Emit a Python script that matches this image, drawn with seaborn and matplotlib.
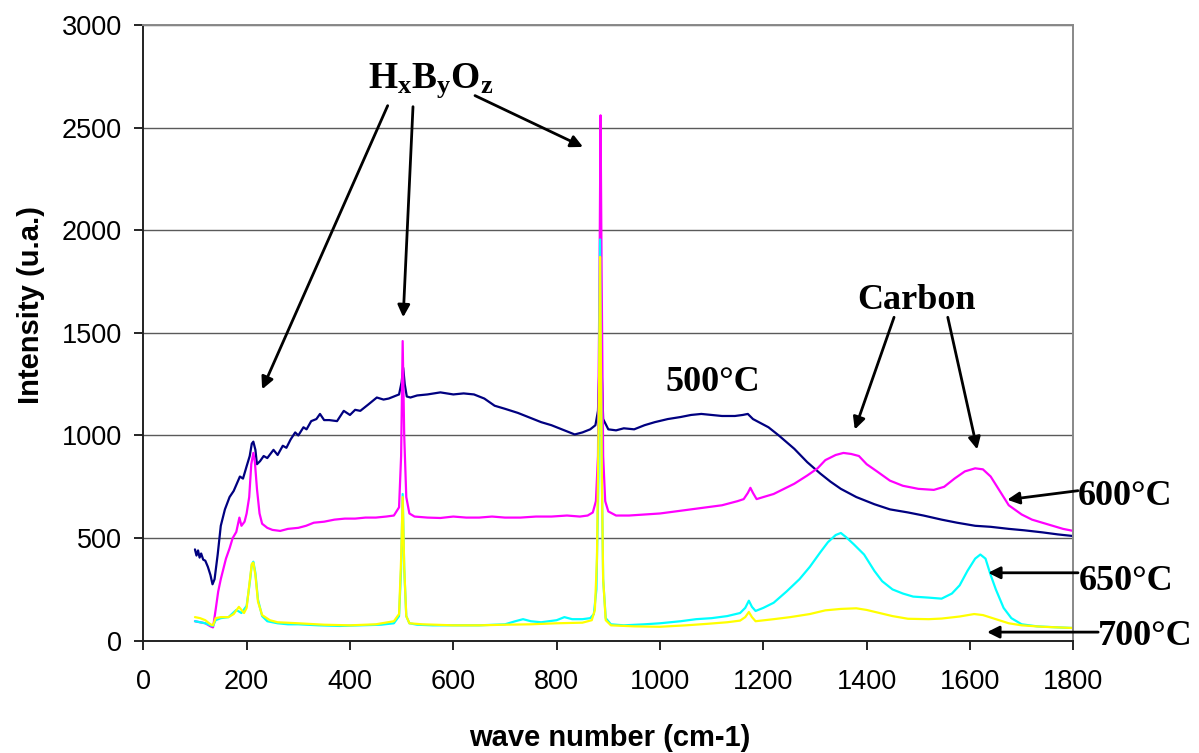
import matplotlib
matplotlib.use("Agg")
import matplotlib.pyplot as plt
import seaborn as sns
import pandas as pd

# ---------------- data ----------------
wn_500 = [100, 103, 106, 109, 112, 116, 120, 125, 130, 134, 138, 144, 150, 158, 167, 175, 187, 193,
          200, 206, 210, 213, 217, 220, 226, 233, 240, 252, 260, 270, 277, 285, 294, 300, 310, 316,
          325, 335, 342, 350, 360, 375, 388, 400, 410, 420, 435, 452, 465, 475, 485, 495, 500, 503,
          506, 510, 517, 530, 550, 575, 600, 620, 640, 660, 680, 700, 725, 745, 770, 790, 810, 835,
          850, 865, 875, 880, 885, 890, 900, 915, 930, 950, 970, 990, 1015, 1040, 1060, 1080, 1100,
          1120, 1145, 1160, 1170, 1180, 1195, 1210, 1230, 1260, 1285, 1310, 1330, 1350, 1380, 1415,
          1445, 1480, 1510, 1545, 1575, 1610, 1640, 1675, 1705, 1740, 1770, 1800]
int_500 = [445, 415, 440, 405, 425, 395, 390, 360, 320, 275, 300, 420, 560, 640, 700, 730, 800, 790,
           850, 900, 960, 970, 930, 860, 875, 900, 890, 930, 905, 950, 940, 980, 1015, 1000, 1040, 1030,
           1070, 1080, 1105, 1075, 1075, 1070, 1120, 1100, 1125, 1120, 1150, 1185, 1175, 1180, 1190, 1200, 1260, 1330,
           1250, 1190, 1185, 1195, 1200, 1210, 1200, 1205, 1200, 1180, 1145, 1130, 1110, 1090, 1065, 1050, 1030, 1005,
           1015, 1030, 1050, 1120, 1500, 1080, 1030, 1025, 1035, 1030, 1050, 1065, 1080, 1090, 1100, 1105, 1100,
           1095, 1095, 1100, 1105, 1080, 1060, 1040, 1000, 935, 870, 815, 775, 740, 700, 665,
           640, 625, 610, 590, 575, 560, 555, 545, 538, 528, 518, 510]

wn_600 = [100, 110, 120, 130, 135, 140, 145, 150, 160, 167, 173, 180, 186, 190, 196, 200, 205, 209, 213,
          216, 220, 225, 230, 240, 250, 265, 280, 300, 315, 330, 350, 370, 390, 410, 430, 450, 470, 485,
          495, 499, 502, 505, 509, 515, 525, 550, 575, 600, 625, 650, 675, 700, 730, 760, 790, 820, 845,
          860, 870, 876, 880, 883, 885, 887, 890, 894, 900, 915, 940, 970, 1000, 1030, 1060, 1090, 1120,
          1150, 1162, 1170, 1175, 1180, 1187, 1200, 1220, 1240, 1260, 1285, 1305, 1320, 1340, 1355, 1370,
          1385, 1400, 1420, 1445, 1470, 1500, 1530, 1550, 1570, 1590, 1610, 1625, 1640, 1655, 1675, 1700,
          1720, 1740, 1760, 1780, 1800]
int_600 = [95, 90, 85, 70, 65, 150, 240, 300, 400, 450, 500, 530, 600, 560, 580, 620, 700, 860, 915,
           870, 740, 620, 570, 550, 540, 535, 545, 550, 560, 575, 580, 590, 595, 595, 600, 600, 605, 610,
           650, 900, 1460, 1000, 700, 620, 605, 600, 598, 605, 600, 600, 605, 600, 600, 605, 605, 610, 605,
           610, 625, 680, 900, 1800, 2560, 1800, 900, 680, 630, 610, 610, 615, 620, 630, 640, 650, 660,
           680, 690, 720, 745, 720, 690, 700, 715, 740, 765, 805, 840, 880, 905, 915, 910,
           900, 860, 825, 780, 755, 740, 735, 750, 790, 825, 840, 835, 800, 740, 660, 615,
           590, 575, 560, 545, 535]

wn_650 = [100, 110, 120, 130, 135, 140, 150, 165, 180, 190, 200, 206, 210, 213, 217, 222, 230, 240, 260,
          280, 300, 340, 380, 420, 460, 485, 495, 499, 502, 505, 509, 515, 530, 560, 600, 650, 700, 720,
          735, 750, 770, 800, 815, 830, 850, 865, 872, 877, 881, 884, 887, 890, 895, 905, 930, 970, 1000,
          1040, 1070, 1100, 1130, 1155, 1165, 1172, 1178, 1185, 1200, 1220, 1245, 1270, 1290, 1310, 1325,
          1340, 1350, 1360, 1375, 1395, 1415, 1430, 1450, 1470, 1490, 1520, 1545, 1565, 1580, 1595, 1610,
          1620, 1630, 1640, 1650, 1665, 1680, 1700, 1730, 1770, 1800]
int_650 = [95, 90, 85, 75, 72, 100, 110, 115, 150, 135, 170, 280, 370, 385, 330, 200, 120, 95, 85,
           80, 80, 75, 72, 75, 78, 85, 120, 350, 715, 350, 120, 85, 78, 75, 75, 75, 80, 95,
           105, 95, 90, 100, 115, 105, 105, 110, 130, 250, 800, 1955, 900, 300, 110, 80, 75, 80, 85,
           95, 105, 110, 120, 135, 160, 195, 165, 145, 160, 185, 240, 300, 360, 430, 480,
           515, 525, 505, 470, 420, 340, 290, 250, 230, 215, 210, 205, 230, 270, 340, 400,
           420, 400, 320, 250, 160, 110, 80, 70, 65, 62]

wn_700 = [100, 110, 120, 130, 135, 140, 150, 165, 175, 185, 190, 195, 200, 206, 210, 213, 217, 222, 230,
          245, 260, 300, 350, 400, 450, 485, 495, 499, 502, 505, 509, 515, 540, 600, 650, 700, 750, 800,
          850, 868, 874, 878, 882, 884, 887, 890, 895, 905, 950, 1000, 1050, 1090, 1130, 1155, 1165, 1172,
          1178, 1185, 1220, 1252, 1290, 1320, 1350, 1380, 1400, 1420, 1450, 1480, 1520, 1545, 1580, 1608,
          1625, 1650, 1675, 1700, 1740, 1800]
int_700 = [115, 110, 100, 80, 75, 110, 115, 115, 130, 165, 150, 135, 160, 290, 375, 380, 320, 190, 125,
           100, 90, 85, 78, 75, 80, 95, 130, 400, 700, 360, 120, 85, 80, 75, 75, 78, 80, 85,
           88, 100, 150, 400, 1200, 1870, 900, 300, 100, 75, 70, 68, 75, 82, 90, 98, 115, 140,
           115, 95, 105, 115, 130, 148, 155, 158, 150, 138, 120, 107, 105, 108, 118, 130,
           125, 105, 85, 75, 68, 62]

series_names = ["500°C", "600°C", "650°C", "700°C"]
series_colors = ["#000080", "#FF00FF", "#00FFFF", "#FFFF00"]
x_ticks = list(range(0, 1801, 200))
y_ticks = list(range(0, 3001, 500))

# ---------------- figure ----------------
sns.set_theme(style="white")
plt.rcParams["font.family"] = ["Liberation Sans", "DejaVu Sans"]
plt.rcParams["mathtext.fontset"] = "custom"
plt.rcParams["mathtext.rm"] = "Liberation Serif:bold"
plt.rcParams["mathtext.it"] = "Liberation Serif:bold"
plt.rcParams["mathtext.bf"] = "Liberation Serif:bold"
plt.rcParams["text.color"] = "black"
plt.rcParams["axes.labelcolor"] = "black"
plt.rcParams["xtick.color"] = "black"
plt.rcParams["ytick.color"] = "black"

fig = plt.figure(figsize=(11.99, 7.53), dpi=100)
ax = fig.add_axes([0.1195, 0.1491, 0.7757, 0.8177])

data = {
    "500°C": (wn_500, int_500),
    "600°C": (wn_600, int_600),
    "650°C": (wn_650, int_650),
    "700°C": (wn_700, int_700),
}
for name, col in zip(series_names, series_colors):
    xs, ys = data[name]
    df = pd.DataFrame({"wave": xs, "intensity": ys})
    sns.lineplot(data=df, x="wave", y="intensity", ax=ax, color=col, lw=1.6,
                 sort=False, estimator=None, legend=False)

ax.set_xlim(0, 1800)
ax.set_ylim(0, 3000)
ax.set_xticks(x_ticks)
ax.set_yticks(y_ticks)
ax.set_xticklabels([str(t) for t in x_ticks])
ax.set_yticklabels([str(t) for t in y_ticks])
ax.tick_params(axis="both", which="major", labelsize=19.5, direction="out",
               length=6.5, width=1.2, color="black", labelcolor="black", left=True, bottom=True)
ax.tick_params(axis="y", pad=9)
ax.tick_params(axis="x", pad=14)

for y in y_ticks[1:]:
    ax.axhline(y, color="#5a5a5a", lw=1.0, zorder=0)

ax.spines["left"].set_color("#222222")
ax.spines["bottom"].set_color("#222222")
ax.spines["top"].set_color("#888888")
ax.spines["right"].set_color("#888888")
for s in ax.spines.values():
    s.set_linewidth(1.4)

ax.set_xlabel("wave number (cm-1)", fontsize=21, fontweight="bold", color="black")
ax.set_ylabel("Intensity (u.a.)", fontsize=21, fontweight="bold", color="black")
ax.xaxis.set_label_coords(0.502, -0.135)
ax.yaxis.set_label_coords(-0.106, 0.545)

serif = dict(family="Liberation Serif", fontweight="bold", color="black")
arrow = dict(arrowstyle="-|>", color="black", lw=2.0, mutation_scale=18, shrinkA=0, shrinkB=0)

ax.text(557, 2695, r"$\mathrm{H_xB_yO_z}$", fontsize=27, ha="center", va="baseline", color="black")
for (tx, ty, hx, hy) in [(473, 2607, 230, 1225), (522, 2602, 503, 1576), (642, 2656, 851, 2406)]:
    ax.annotate("", xy=(hx, hy), xytext=(tx, ty), arrowprops=arrow, annotation_clip=False)

ax.text(1496, 1615, "Carbon", fontsize=26, ha="center", va="baseline", **serif)
for (tx, ty, hx, hy) in [(1453, 1576, 1377, 1029), (1557, 1576, 1614, 932)]:
    ax.annotate("", xy=(hx, hy), xytext=(tx, ty), arrowprops=arrow, annotation_clip=False)

ax.text(1103, 1215, "500°C", fontsize=26, ha="center", va="baseline", **serif)

labels_right = [("600°C", 1900, 663, 1809, 731, 1672, 687),
                ("650°C", 1902, 247, 1809, 331, 1635, 331),
                ("700°C", 1940, -21, 1848, 42, 1633, 42)]
for (lab, lx, ly, tx, ty, hx, hy) in labels_right:
    ax.text(lx, ly, lab, fontsize=26, ha="center", va="baseline", clip_on=False, **serif)
    ax.annotate("", xy=(hx, hy), xytext=(tx, ty), arrowprops=arrow, annotation_clip=False)

fig.savefig("out.png", dpi=100)
